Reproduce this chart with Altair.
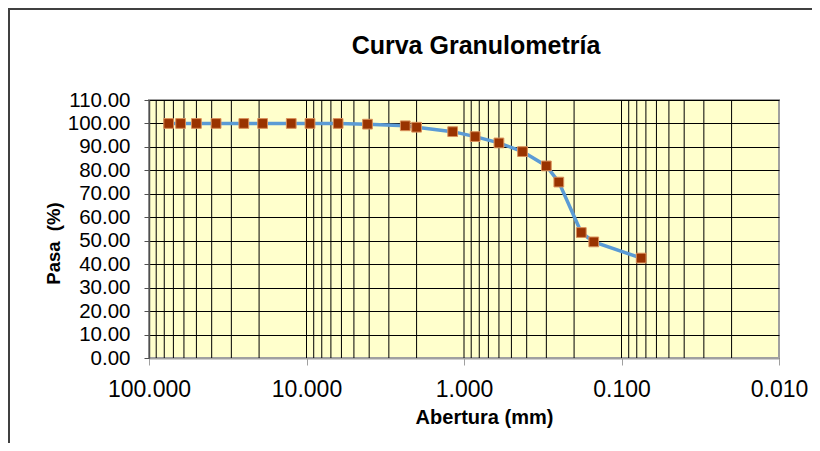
import altair as alt
import pandas as pd

# Data
aberturas = [75, 63, 50, 37.5, 25, 19, 12.5, 9.5, 6.3, 4.1, 2.36, 2.0, 1.18,
             0.85, 0.6, 0.425, 0.3, 0.25, 0.18, 0.15, 0.075]
pasa = [100, 100, 100, 100, 100, 100, 100, 100, 100, 99.7, 99.0, 98.4, 96.5,
        94.4, 91.7, 88.0, 81.9, 75.0, 53.5, 49.5, 42.6]

x_ticks = [100, 10, 1, 0.1, 0.01]
y_ticks = [0, 10, 20, 30, 40, 50, 60, 70, 80, 90, 100, 110]
x_grid = [90, 80, 70, 60, 50, 40, 30, 20, 10,
          9, 8, 7, 6, 5, 4, 3, 2, 1,
          0.9, 0.8, 0.7, 0.6, 0.5, 0.4, 0.3, 0.2, 0.1,
          0.09, 0.08, 0.07, 0.06, 0.05, 0.04, 0.03, 0.02]

FONT = "Liberation Sans"

df = pd.DataFrame({"abertura": aberturas, "pasa": pasa, "orden": list(range(len(aberturas)))})
grid_df = pd.DataFrame({"g": x_grid})

xscale = alt.Scale(type="log", domain=[0.01, 100], reverse=True)
yscale = alt.Scale(domain=[0, 110], nice=False)

xaxis = alt.Axis(values=x_ticks, format=".3f", title="Abertura (mm)",
                 labelFont=FONT, labelFontSize=23, labelColor="#000000",
                 labelPadding=13, tickSize=7, tickColor="#A0A0A0",
                 domainColor="#A0A0A0", domainWidth=2, grid=False,
                 titleFont=FONT, titleFontSize=20, titleFontWeight="bold",
                 titleColor="#000000", titleX=335, titleY=65,
                 titleBaseline="alphabetic", labelFlush=False,
                 labelOverlap=False)
yaxis = alt.Axis(values=y_ticks, format=".2f", title="Pasa \u00a0(%)",
                 labelFont=FONT, labelFontSize=20.5, labelColor="#000000",
                 labelPadding=14, tickSize=5, tickColor="#505050",
                 domainColor="#505050", domainWidth=1.5,
                 grid=True, gridColor="#000000", gridWidth=1,
                 titleFont=FONT, titleFontSize=18.5, titleFontWeight="bold",
                 titleColor="#000000", titleX=-96, titleY=143,
                 titleBaseline="middle", labelFlush=False,
                 labelOverlap=False)

grid = alt.Chart(grid_df).mark_rule(color="#000000", strokeWidth=1).encode(
    x=alt.X("g:Q", scale=xscale, axis=xaxis)
)

line = alt.Chart(df).mark_line(color="#5B9BD5", strokeWidth=3.5).encode(
    x=alt.X("abertura:Q", scale=xscale, axis=xaxis),
    y=alt.Y("pasa:Q", scale=yscale, axis=yaxis),
    order="orden:Q",
)

points = alt.Chart(df).mark_square(size=95, color="#993300", opacity=1,
                                   stroke="#D9905A", strokeWidth=1).encode(
    x=alt.X("abertura:Q", scale=xscale, axis=xaxis),
    y=alt.Y("pasa:Q", scale=yscale, axis=yaxis),
)

frame_left = alt.Chart(df).mark_rule(color="#404040", strokeWidth=1.5).encode(
    x=alt.value(-140.3), y=alt.value(-90.7), y2=alt.value(350)
)
frame_top = alt.Chart(df).mark_rule(color="#404040", strokeWidth=1.5).encode(
    x=alt.value(-140.3), x2=alt.value(680), y=alt.value(-90.7)
)

chart = alt.layer(grid, line, points, frame_left, frame_top).properties(
    width=630,
    height=258,
    autosize=alt.AutoSizeParams(type="none"),
    padding={"left": 141, "top": 92, "right": 33, "bottom": 85},
    title=alt.TitleParams("Curva Granulometría", font=FONT, fontSize=25,
                          fontWeight="bold", color="#000000", anchor="middle",
                          baseline="alphabetic", dx=12, dy=70, offset=0),
    background="#FFFFFF",
).configure_view(
    fill="#FFFFCC", stroke="#A0A0A0", strokeWidth=2
)

chart.save("out.html", embed_options={"renderer": "svg", "actions": False})
